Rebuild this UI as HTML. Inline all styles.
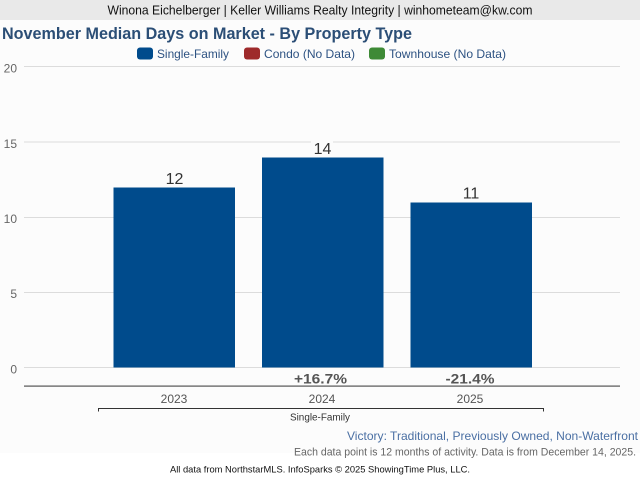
<!DOCTYPE html>
<html>
<head>
<meta charset="utf-8">
<style>
  html,body{margin:0;padding:0;background:#fff;}
  svg{display:block;}
  text{font-family:"Liberation Sans",Arial,sans-serif;}
</style>
</head>
<body>
<svg width="640" height="480" viewBox="0 0 640 480" xmlns="http://www.w3.org/2000/svg">
  <!-- backgrounds -->
  <rect x="0" y="0" width="640" height="480" fill="#ffffff"/>
  <rect x="0" y="20" width="640" height="433" fill="#fcfcfc"/>
  <rect x="0" y="0" width="640" height="20" fill="#e9e9e9"/>
  <text x="320" y="14.5" font-size="13" fill="#111" text-anchor="middle" textLength="425" lengthAdjust="spacingAndGlyphs">Winona Eichelberger | Keller Williams Realty Integrity | winhometeam@kw.com</text>

  <!-- title -->
  <text x="2" y="39" font-size="16.5" font-weight="bold" fill="#2b4e76" textLength="410" lengthAdjust="spacingAndGlyphs">November Median Days on Market - By Property Type</text>

  <!-- legend -->
  <rect x="137" y="47.5" width="16" height="12" rx="3" fill="#004b8c"/>
  <text x="157" y="58" font-size="12" fill="#2d5282" textLength="72" lengthAdjust="spacingAndGlyphs">Single-Family</text>
  <rect x="244" y="47.5" width="16" height="12" rx="3" fill="#9e2a2b"/>
  <text x="264" y="58" font-size="12" fill="#2d5282" textLength="91" lengthAdjust="spacingAndGlyphs">Condo (No Data)</text>
  <rect x="369" y="47.5" width="16" height="12" rx="3" fill="#3e8a36"/>
  <text x="389" y="58" font-size="12" fill="#2d5282" textLength="117" lengthAdjust="spacingAndGlyphs">Townhouse (No Data)</text>

  <!-- gridlines -->
  <g fill="#dcdcdc">
    <rect x="24" y="66" width="596" height="1"/>
    <rect x="24" y="141.5" width="596" height="1"/>
    <rect x="24" y="217" width="596" height="1"/>
    <rect x="24" y="292" width="596" height="1"/>
    <rect x="24" y="367" width="596" height="1"/>
  </g>

  <!-- y labels -->
  <g font-size="12" fill="#666" text-anchor="end">
    <text x="17" y="72.5">20</text>
    <text x="17" y="148">15</text>
    <text x="17" y="223">10</text>
    <text x="17" y="298">5</text>
    <text x="17" y="373.5">0</text>
  </g>

  <!-- bars -->
  <rect x="113.5" y="187.5" width="121.5" height="180" fill="#004b8c"/>
  <rect x="262" y="157.5" width="121.5" height="210" fill="#004b8c"/>
  <rect x="410.5" y="202.5" width="121.5" height="165" fill="#004b8c"/>

  <!-- value labels -->
  <rect x="311" y="139" width="22" height="17" fill="#fcfcfc"/>
  <g font-size="16" fill="#333" text-anchor="middle">
    <text x="174.5" y="184">12</text>
    <text x="322.5" y="154">14</text>
    <text x="471" y="198.5">11</text>
  </g>

  <!-- percent labels -->
  <g font-size="14" font-weight="bold" fill="#555" text-anchor="middle">
    <text x="320.5" y="383.5" textLength="53" lengthAdjust="spacingAndGlyphs">+16.7%</text>
    <text x="470" y="383.5" textLength="49" lengthAdjust="spacingAndGlyphs">-21.4%</text>
  </g>

  <!-- x axis -->
  <rect x="24" y="385.5" width="596" height="1.2" fill="#555"/>
  <g font-size="12" fill="#555" text-anchor="middle">
    <text x="174" y="403">2023</text>
    <text x="322" y="403">2024</text>
    <text x="470" y="403">2025</text>
  </g>

  <!-- bracket -->
  <path d="M98.5 411.5 V408.5 H543.5 V411.5" fill="none" stroke="#333" stroke-width="1"/>
  <text x="320" y="420.5" font-size="10" fill="#333" text-anchor="middle" textLength="60" lengthAdjust="spacingAndGlyphs">Single-Family</text>

  <!-- footer -->
  <text x="638" y="440" font-size="12" fill="#4a6fa3" text-anchor="end" textLength="291" lengthAdjust="spacingAndGlyphs">Victory: Traditional, Previously Owned, Non-Waterfront</text>
  <text x="636" y="455.5" font-size="11" fill="#666" text-anchor="end" textLength="342" lengthAdjust="spacingAndGlyphs">Each data point is 12 months of activity. Data is from December 14, 2025.</text>
  <text x="320" y="472.5" font-size="9.5" fill="#111" text-anchor="middle" textLength="300" lengthAdjust="spacingAndGlyphs">All data from NorthstarMLS. InfoSparks © 2025 ShowingTime Plus, LLC.</text>
</svg>
</body>
</html>
